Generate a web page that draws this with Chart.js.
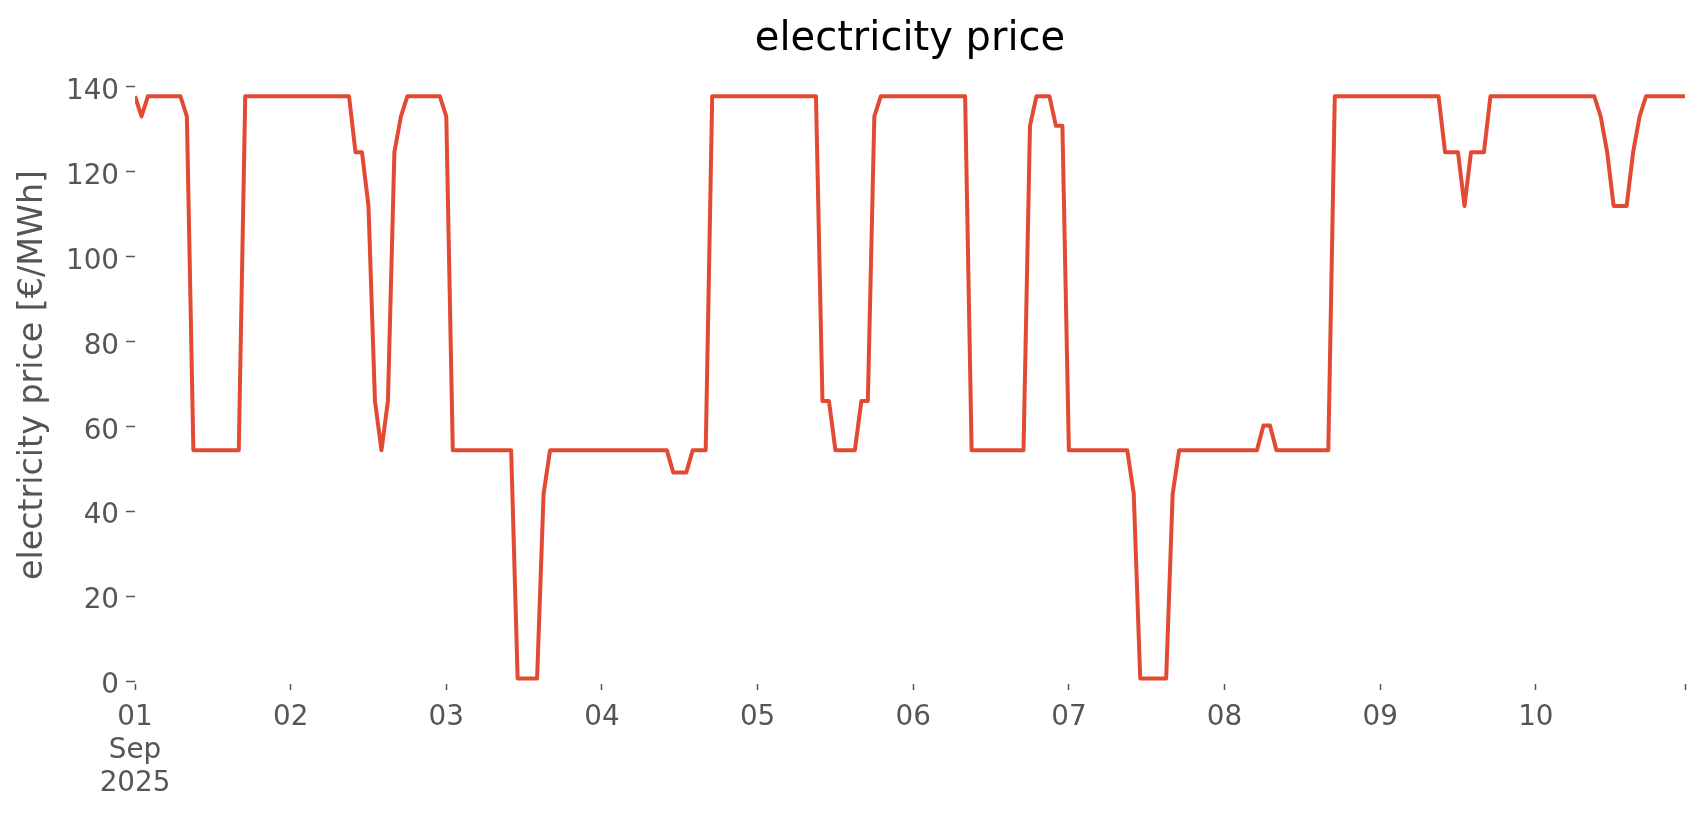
<!DOCTYPE html>
<html>
<head>
<meta charset="utf-8">
<title>electricity price</title>
<script src="https://cdn.jsdelivr.net/npm/chart.js@4.4.1/dist/chart.umd.min.js"></script>
<style>
  html, body { margin: 0; padding: 0; background: #fff; }
</style>
</head>
<body>
<canvas id="chart" width="1706" height="815"></canvas>
<script>
// hourly price, 01 Sep 2025 00:00 .. 10 Sep 2025 23:00 (one row per day)
const price = [
  137.8, 133, 137.8, 137.8, 137.8, 137.8, 137.8, 137.8, 133, 54.4, 54.4, 54.4, 54.4, 54.4, 54.4, 54.4, 54.4, 137.8, 137.8, 137.8, 137.8, 137.8, 137.8, 137.8,
  137.8, 137.8, 137.8, 137.8, 137.8, 137.8, 137.8, 137.8, 137.8, 137.8, 124.6, 124.6, 111.9, 66, 54.4, 66, 124.6, 133, 137.8, 137.8, 137.8, 137.8, 137.8, 137.8,
  133, 54.4, 54.4, 54.4, 54.4, 54.4, 54.4, 54.4, 54.4, 54.4, 54.4, 0.6, 0.6, 0.6, 0.6, 44.1, 54.4, 54.4, 54.4, 54.4, 54.4, 54.4, 54.4, 54.4,
  54.4, 54.4, 54.4, 54.4, 54.4, 54.4, 54.4, 54.4, 54.4, 54.4, 54.4, 49.1, 49.1, 49.1, 54.4, 54.4, 54.4, 137.8, 137.8, 137.8, 137.8, 137.8, 137.8, 137.8,
  137.8, 137.8, 137.8, 137.8, 137.8, 137.8, 137.8, 137.8, 137.8, 137.8, 66, 66, 54.4, 54.4, 54.4, 54.4, 66, 66, 133, 137.8, 137.8, 137.8, 137.8, 137.8,
  137.8, 137.8, 137.8, 137.8, 137.8, 137.8, 137.8, 137.8, 137.8, 54.4, 54.4, 54.4, 54.4, 54.4, 54.4, 54.4, 54.4, 54.4, 130.8, 137.8, 137.8, 137.8, 130.8, 130.8,
  54.4, 54.4, 54.4, 54.4, 54.4, 54.4, 54.4, 54.4, 54.4, 54.4, 44.1, 0.6, 0.6, 0.6, 0.6, 0.6, 44.1, 54.4, 54.4, 54.4, 54.4, 54.4, 54.4, 54.4,
  54.4, 54.4, 54.4, 54.4, 54.4, 54.4, 60.2, 60.2, 54.4, 54.4, 54.4, 54.4, 54.4, 54.4, 54.4, 54.4, 54.4, 137.8, 137.8, 137.8, 137.8, 137.8, 137.8, 137.8,
  137.8, 137.8, 137.8, 137.8, 137.8, 137.8, 137.8, 137.8, 137.8, 137.8, 124.6, 124.6, 124.6, 111.9, 124.6, 124.6, 124.6, 137.8, 137.8, 137.8, 137.8, 137.8, 137.8, 137.8,
  137.8, 137.8, 137.8, 137.8, 137.8, 137.8, 137.8, 137.8, 137.8, 137.8, 133, 124.6, 111.9, 111.9, 111.9, 124.6, 133, 137.8, 137.8, 137.8, 137.8, 137.8, 137.8, 137.8
];
// hours since 01 Sep 2025 00:00
const hours = price.map((_, i) => i);

const tickHours = [0, 24, 48, 72, 96, 120, 144, 168, 192, 216, 239];
const tickLabels = [['01', 'Sep', '2025'], '02', '03', '04', '05', '06', '07', '08', '09', '10', ''];
const yTicks = [0, 20, 40, 60, 80, 100, 120, 140];

const grey = '#555555';
const tickFont = { family: 'DejaVu Sans', size: 27.8, lineHeight: 1.19 };

const ctx = document.getElementById('chart').getContext('2d');
new Chart(ctx, {
  type: 'line',
  data: {
    labels: hours,
    datasets: [{
      label: 'electricity price',
      data: price,
      borderColor: '#E24A33',
      borderWidth: 4,
      borderJoinStyle: 'round',
      pointRadius: 0,
      tension: 0,
      fill: false
    }]
  },
  options: {
    responsive: false,
    animation: false,
    devicePixelRatio: 1,
    layout: { padding: { left: 0, right: 21, top: 0, bottom: 0 } },
    plugins: {
      legend: { display: false },
      tooltip: { enabled: false },
      title: {
        display: true,
        text: 'electricity price',
        color: '#000000',
        fullSize: false,
        font: { family: 'DejaVu Sans', size: 40, weight: 'normal', lineHeight: 1.2 },
        padding: { top: 16, bottom: 2 }
      }
    },
    scales: {
      x: {
        type: 'linear',
        min: 0,
        max: 239,
        border: { display: false },
        grid: { drawOnChartArea: false, drawTicks: true, tickLength: 6, tickColor: grey, tickWidth: 1.5 },
        ticks: {
          autoSkip: false,
          maxRotation: 0,
          padding: 11,
          color: grey,
          font: tickFont,
          callback: (v) => {
            const i = tickHours.indexOf(v);
            return i < 0 ? '' : tickLabels[i];
          }
        },
        afterBuildTicks: (s) => { s.ticks = tickHours.map(v => ({ value: v })); },
        afterFit: (s) => { s.height = 131; }
      },
      y: {
        min: -0.7,
        max: 144.9,
        border: { display: false },
        grid: { drawOnChartArea: false, drawTicks: true, tickLength: 9, tickColor: grey, tickWidth: 1.5 },
        ticks: { padding: 7, color: grey, font: tickFont, labelOffset: 5 },
        afterBuildTicks: (s) => { s.ticks = yTicks.map(v => ({ value: v })); },
        afterFit: (s) => { s.width = 135; },
        title: {
          display: true,
          text: 'electricity price [€/MWh]',
          color: grey,
          font: { family: 'DejaVu Sans', size: 33.3, lineHeight: 1.2 },
          padding: { top: 13.4, bottom: 0 }
        }
      }
    }
  }
});
</script>
</body>
</html>
